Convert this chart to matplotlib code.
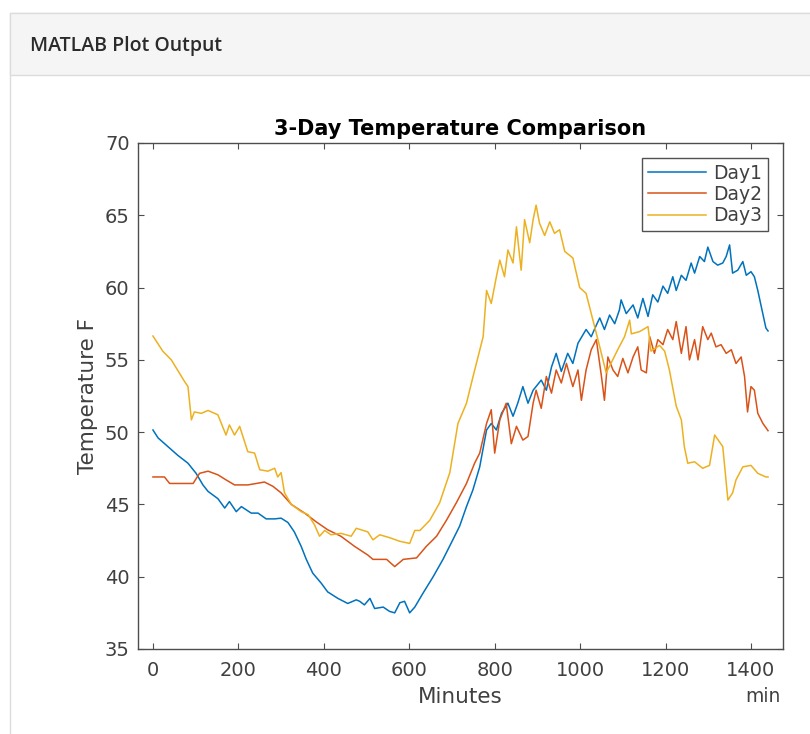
"""3-day temperature comparison, MATLAB-style panel"""

import matplotlib.pyplot as plt
from matplotlib.patches import Rectangle

# Day 1 (blue) - minutes / degrees F
day1_min = [0, 12, 35, 58, 82, 101, 117, 129, 152, 168, 179, 195, 207, 230, 246,
            265, 285, 300, 316, 331, 347, 359, 374, 394, 409, 433, 456, 476, 484,
            495, 508, 519, 539, 554, 566, 578, 589, 601, 613, 632, 656, 679, 702,
            718, 734, 749, 765, 781, 792, 804, 816, 831, 843, 854, 866, 878, 890,
            909, 921, 933, 944, 956, 971, 983, 995, 1014, 1026, 1038, 1046, 1057,
            1069, 1081, 1092, 1096, 1108, 1124, 1135, 1147, 1159, 1170, 1182,
            1194, 1205, 1217, 1225, 1237, 1248, 1260, 1268, 1280, 1291, 1299,
            1311, 1322, 1334, 1342, 1350, 1357, 1369, 1381, 1389, 1400, 1408,
            1416, 1424, 1435, 1440]
day1_temp = [50.15, 49.6, 49.0, 48.4, 47.85, 47.15, 46.35, 45.9, 45.4, 44.75, 45.2,
             44.5, 44.85, 44.4, 44.4, 44.0, 44.0, 44.05, 43.75, 43.1, 42.1, 41.2,
             40.25, 39.55, 38.95, 38.5, 38.15, 38.4, 38.3, 38.05, 38.5, 37.8, 37.9,
             37.6, 37.5, 38.2, 38.3, 37.5, 37.9, 38.85, 40.0, 41.2, 42.55, 43.5,
             44.85, 46.0, 47.6, 50.15, 50.6, 50.15, 51.3, 52.0, 51.1, 52.0, 53.15,
             52.0, 52.9, 53.6, 52.9, 54.5, 55.45, 54.2, 55.45, 54.75, 56.15, 57.1,
             56.6, 57.4, 57.9, 57.1, 58.1, 57.5, 58.45, 59.15, 58.2, 58.8, 57.9,
             59.25, 58.0, 59.5, 59.0, 60.1, 59.6, 60.75, 59.8, 60.85, 60.5, 61.7,
             61.0, 62.15, 61.8, 62.8, 61.8, 61.55, 61.7, 62.15, 62.95, 61.0, 61.2,
             61.8, 60.85, 61.1, 60.75, 59.8, 58.7, 57.2, 57.0]

# Day 2 (orange)
day2_min = [0, 27, 39, 74, 94, 109, 129, 152, 171, 191, 222, 242, 261, 281, 300,
            324, 355, 382, 409, 440, 472, 503, 515, 547, 566, 586, 617, 640, 664,
            687, 710, 734, 753, 765, 781, 792, 800, 812, 827, 839, 851, 866, 878,
            890, 897, 909, 921, 933, 944, 956, 968, 983, 995, 1003, 1014, 1026,
            1038, 1050, 1057, 1065, 1077, 1088, 1100, 1112, 1124, 1135, 1143,
            1155, 1163, 1174, 1182, 1194, 1205, 1217, 1225, 1237, 1248, 1256,
            1268, 1276, 1287, 1299, 1307, 1318, 1330, 1342, 1354, 1365, 1377,
            1385, 1392, 1400, 1408, 1416, 1428, 1440]
day2_temp = [46.9, 46.9, 46.45, 46.45, 46.45, 47.15, 47.3, 47.05, 46.7, 46.35,
             46.35, 46.45, 46.55, 46.25, 45.8, 45.0, 44.4, 43.8, 43.25, 42.8, 42.1,
             41.5, 41.2, 41.2, 40.7, 41.2, 41.3, 42.1, 42.8, 43.9, 45.1, 46.45,
             47.85, 48.55, 50.6, 51.55, 48.55, 50.85, 52.0, 49.2, 50.4, 49.45, 49.7,
             52.0, 52.9, 51.65, 53.85, 52.7, 54.3, 53.4, 54.75, 53.15, 54.3, 52.2,
             54.3, 55.7, 56.4, 53.85, 52.2, 55.2, 54.3, 53.85, 55.1, 54.1, 55.2,
             55.9, 54.3, 54.1, 56.6, 55.45, 56.4, 56.05, 57.1, 56.4, 57.65, 55.45,
             57.3, 55.0, 56.4, 55.0, 57.3, 56.4, 56.85, 55.9, 56.05, 55.45, 55.7,
             54.75, 55.2, 53.85, 51.4, 53.15, 52.9, 51.3, 50.6, 50.1]

# Day 3 (yellow)
day3_min = [0, 23, 43, 74, 82, 90, 97, 113, 129, 152, 171, 179, 191, 203, 222,
            238, 250, 269, 285, 292, 300, 308, 324, 347, 363, 378, 390, 402, 417,
            440, 464, 476, 503, 515, 531, 554, 578, 601, 613, 625, 648, 671, 695,
            714, 734, 749, 761, 773, 781, 792, 804, 812, 823, 831, 843, 851, 862,
            870, 882, 890, 897, 905, 917, 929, 940, 952, 964, 983, 999, 1014,
            1030, 1046, 1061, 1073, 1088, 1104, 1116, 1120, 1139, 1159, 1166,
            1186, 1198, 1209, 1225, 1237, 1244, 1252, 1268, 1287, 1303, 1315,
            1334, 1346, 1357, 1365, 1381, 1400, 1416, 1435, 1440]
day3_temp = [56.65, 55.6, 55.0, 53.5, 53.15, 50.85, 51.4, 51.3, 51.5, 51.2, 49.8,
             50.5, 49.8, 50.4, 48.65, 48.55, 47.4, 47.3, 47.5, 46.9, 47.2, 45.8,
             45.0, 44.5, 44.3, 43.6, 42.8, 43.2, 42.9, 43.0, 42.8, 43.35, 43.1,
             42.55, 42.9, 42.7, 42.45, 42.3, 43.2, 43.2, 43.9, 45.1, 47.2, 50.6,
             52.0, 53.8, 55.2, 56.6, 59.8, 58.9, 60.75, 61.9, 60.75, 62.6, 61.7,
             64.2, 61.2, 64.7, 63.1, 64.7, 65.7, 64.45, 63.6, 64.55, 63.75, 64.0,
             62.5, 62.05, 60.0, 59.6, 57.75, 55.9, 54.1, 54.8, 55.7, 56.6, 57.75,
             56.8, 56.95, 57.3, 55.6, 56.0, 55.6, 54.3, 51.8, 50.85, 49.0, 47.85,
             47.95, 47.5, 47.7, 49.8, 49.0, 45.3, 45.8, 46.7, 47.6, 47.7, 47.15,
             46.9, 46.9]

labels = ['Day1', 'Day2', 'Day3']
colors = ['#0072BD', '#D95319', '#EDB120']
x_ticks = [0, 200, 400, 600, 800, 1000, 1200, 1400]
y_ticks = [35, 40, 45, 50, 55, 60, 65, 70]

AX_COLOR = '#4d4d4d'
TXT_COLOR = '#404040'


def draw_panel(fig):
    """Gray header card around the plot"""
    W, H = 810.0, 734.0
    # card outline
    fig.patches.append(Rectangle((10 / W, -0.01), 1.0, 1 - 13 / H + 0.01,
                                 transform=fig.transFigure, facecolor='white',
                                 edgecolor='#dcdcdc', linewidth=1.0, zorder=-2))
    # header strip
    fig.patches.append(Rectangle((10 / W, 1 - 75 / H), 1.0, 62 / H,
                                 transform=fig.transFigure, facecolor='#f5f5f5',
                                 edgecolor='#dcdcdc', linewidth=1.0, zorder=-1))
    fig.text(30 / W, 1 - 46 / H, 'MATLAB Plot Output', fontsize=14,
             family='Open Sans', fontweight='semibold', color='#2b2b2b',
             va='center', ha='left')


def main():
    fig = plt.figure(figsize=(8.1, 7.34), dpi=100)
    draw_panel(fig)

    ax = fig.add_axes([138 / 810, 1 - 649 / 734, 645 / 810, 506 / 734])
    ax.set_facecolor('white')

    series = [(day1_min, day1_temp), (day2_min, day2_temp), (day3_min, day3_temp)]
    for (xs, ys), lab, col in zip(series, labels, colors):
        ax.plot(xs, ys, color=col, linewidth=1.1, label=lab)

    ax.set_xlim(-35, 1475)
    ax.set_ylim(35, 70)
    ax.set_xticks(x_ticks)
    ax.set_yticks(y_ticks)

    for sp in ax.spines.values():
        sp.set_color(AX_COLOR)
        sp.set_linewidth(1.0)
    ax.tick_params(direction='in', top=True, right=True, length=4,
                   color=AX_COLOR, labelcolor=TXT_COLOR, labelsize=14)
    ax.tick_params(axis='x', pad=9)
    ax.tick_params(axis='y', pad=6)

    ax.set_title('3-Day Temperature Comparison', fontsize=15, fontweight='bold',
                 color='black', pad=6)
    ax.set_xlabel('Minutes', fontsize=15.5, color=TXT_COLOR, labelpad=5)
    ax.set_ylabel('Temperature F', fontsize=15.5, color=TXT_COLOR, labelpad=5)
    ax.text(0.997, -0.093, 'min', transform=ax.transAxes, ha='right',
            va='center', fontsize=13.5, color=TXT_COLOR)

    leg = ax.legend(loc='upper right', fontsize=13.5, frameon=True, fancybox=False,
                    borderpad=0.3, handlelength=3.1, handletextpad=0.4,
                    labelspacing=0.12, borderaxespad=0.8)
    leg.get_frame().set_edgecolor('#262626')
    leg.get_frame().set_linewidth(1.0)
    for t in leg.get_texts():
        t.set_color(TXT_COLOR)

    plt.savefig('out.png', dpi=100)
    plt.close()


if __name__ == "__main__":
    main()
